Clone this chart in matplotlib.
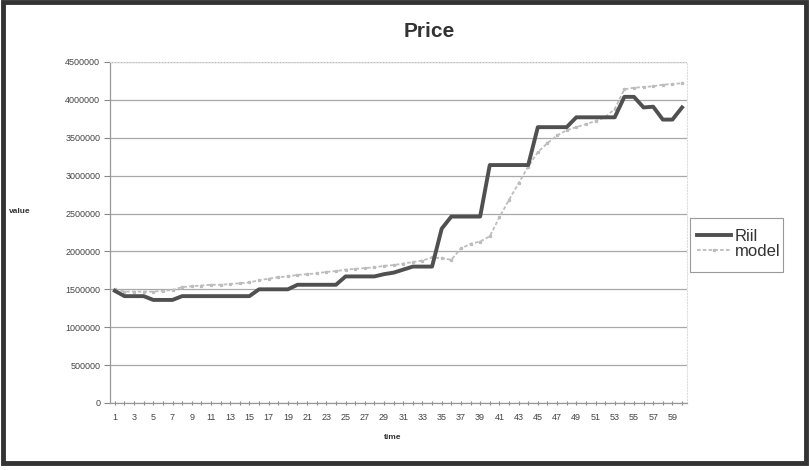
import matplotlib
matplotlib.use("Agg")
import matplotlib.pyplot as plt
from matplotlib.patches import Rectangle
import numpy as np

plt.rcParams['font.family'] = ['Liberation Sans', 'DejaVu Sans']

time = list(range(1, 61))
riil = [1480000, 1410000, 1410000, 1410000, 1360000, 1360000, 1360000, 1410000, 1410000, 1410000,
        1410000, 1410000, 1410000, 1410000, 1410000, 1500000, 1500000, 1500000, 1500000, 1560000,
        1560000, 1560000, 1560000, 1560000, 1670000, 1670000, 1670000, 1670000, 1700000, 1720000,
        1760000, 1800000, 1800000, 1800000, 2300000, 2460000, 2460000, 2460000, 2460000, 3140000,
        3140000, 3140000, 3140000, 3140000, 3640000, 3640000, 3640000, 3640000, 3770000, 3770000,
        3770000, 3770000, 3770000, 4040000, 4040000, 3900000, 3910000, 3740000, 3740000, 3900000]
model = [1500000, 1470000, 1470000, 1470000, 1470000, 1480000, 1490000, 1530000, 1540000, 1550000,
         1560000, 1560000, 1570000, 1580000, 1590000, 1620000, 1640000, 1660000, 1670000, 1690000,
         1700000, 1710000, 1730000, 1740000, 1760000, 1770000, 1780000, 1790000, 1810000, 1820000,
         1840000, 1860000, 1880000, 1920000, 1910000, 1890000, 2040000, 2100000, 2130000, 2200000,
         2450000, 2680000, 2900000, 3120000, 3310000, 3430000, 3530000, 3600000, 3640000, 3680000,
         3720000, 3770000, 3880000, 4140000, 4160000, 4170000, 4180000, 4200000, 4210000, 4220000]
yticks = [0, 500000, 1000000, 1500000, 2000000, 2500000, 3000000, 3500000, 4000000, 4500000]

fig = plt.figure(figsize=(8.09, 4.70), dpi=100)
fig.patch.set_facecolor('white')
ax = fig.add_axes([0.136, 0.1426, 0.713, 0.7255])

ax.plot(time, riil, color='#505050', lw=2.8, label='Riil', zorder=3)
ax.plot(time, model, color='#bdbdbd', lw=1.3, ls=(0, (2, 1.2)), marker='*', markersize=2.2,
        label='model', zorder=2)

ax.set_xlim(0.5, 60.5)
ax.set_ylim(0, 4500000)
ax.set_yticks(yticks)
ax.set_yticklabels([str(v) for v in yticks], fontsize=6.5, color='#444444')
ax.set_xticks(time)
ax.set_xticklabels([str(t) if t % 2 == 1 else '' for t in time], fontsize=6.5, color='#444444')
ax.tick_params(axis='x', length=3, direction='inout', color='#888888', pad=6)
ax.tick_params(axis='y', length=4, direction='out', color='#888888', pad=3)
ax.grid(axis='y', color='#a8a8a8', lw=0.9)
ax.set_axisbelow(True)
for s in ['top', 'right']:
    ax.spines[s].set_color('#dddddd')
    ax.spines[s].set_linestyle(':')
for s in ['left', 'bottom']:
    ax.spines[s].set_color('#999999')
    ax.spines[s].set_linewidth(0.9)

fig.text(0.531, 0.932, 'Price', ha='center', va='center', fontsize=15, fontweight='bold', color='#333333')
fig.text(0.025, 0.549, 'value', ha='center', va='center', fontsize=6, fontweight='bold', color='#333333')
fig.text(0.486, 0.07, 'time', ha='center', va='center', fontsize=6, fontweight='bold', color='#333333')

leg = ax.legend(loc='upper left', bbox_to_anchor=(0.995, 0.55), frameon=False, fontsize=12,
                handlelength=2.0, handletextpad=0.25, labelspacing=0.0, borderpad=0.3)
for t in leg.get_texts():
    t.set_color('#333333')
fig.add_artist(Rectangle((690 / 809, 1 - 272 / 470), 93 / 809, 54 / 470, transform=fig.transFigure,
                         fill=False, edgecolor='#999999', lw=0.8))

fig.add_artist(Rectangle((0.004, 0.014), 0.992, 0.982, transform=fig.transFigure,
                         fill=False, edgecolor='#333333', lw=3.5))

fig.savefig('out.png', dpi=100)
